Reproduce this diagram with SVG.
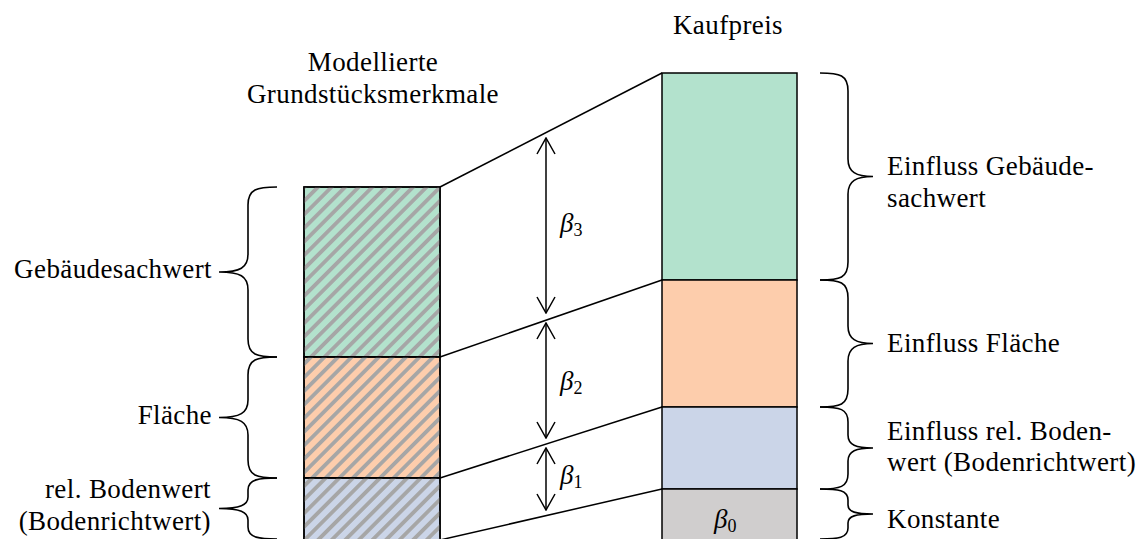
<svg xmlns="http://www.w3.org/2000/svg" width="1146" height="539" viewBox="0 0 1146 539">
<style>
text{font-family:"Liberation Serif","Times New Roman",serif;font-size:27px;letter-spacing:0.4px;fill:#000}
.e{text-anchor:end}
.m{text-anchor:middle}
.b{font-style:italic;letter-spacing:0}
.box{stroke:#000;stroke-width:1.5}
.ln{stroke:#000;stroke-width:1.5;fill:none}
.br{stroke:#000;stroke-width:1.6;fill:none}
</style>
<defs>
<pattern id="hatch" patternUnits="userSpaceOnUse" width="9.6" height="9.6" patternTransform="rotate(45)">
<rect x="0" y="0" width="3.8" height="9.6" fill="#a6a6a6"/>
</pattern>
<marker id="ah" viewBox="0 0 20 20" refX="19" refY="10" markerWidth="20" markerHeight="20" markerUnits="userSpaceOnUse" orient="auto-start-reverse">
<path d="M3,1 L19,10 L3,19" fill="none" stroke="#000" stroke-width="1.5"/>
</marker>
</defs>
<rect width="1146" height="539" fill="#fff"/>

<g id="title-left">
<text class="m" x="373" y="71">Modellierte</text>
<text class="m" x="373" y="103">Grundstücksmerkmale</text>
</g>
<g id="title-right">
<text class="m" x="728" y="34">Kaufpreis</text>
</g>

<g id="left-gebaeude">
<rect class="box" x="304" y="187" width="136" height="170" fill="#b3e2cd"/>
<rect x="304" y="187" width="136" height="170" fill="url(#hatch)"/>
<rect x="304" y="187" width="136" height="170" fill="none" class="box"/>
</g>
<g id="left-flaeche">
<rect class="box" x="304" y="357" width="136" height="121" fill="#fdcdac"/>
<rect x="304" y="357" width="136" height="121" fill="url(#hatch)"/>
<rect x="304" y="357" width="136" height="121" fill="none" class="box"/>
</g>
<g id="left-boden">
<rect class="box" x="304" y="478" width="136" height="64" fill="#cbd5e8"/>
<rect x="304" y="478" width="136" height="64" fill="url(#hatch)"/>
<rect x="304" y="478" width="136" height="64" fill="none" class="box"/>
</g>

<g id="right-gebaeude"><rect class="box" x="662" y="73" width="135" height="207" fill="#b3e2cd"/></g>
<g id="right-flaeche"><rect class="box" x="662" y="280" width="135" height="127" fill="#fdcdac"/></g>
<g id="right-boden"><rect class="box" x="662" y="407" width="135" height="82" fill="#cbd5e8"/></g>
<g id="right-konstante">
<rect class="box" x="662" y="489" width="135" height="53" fill="#d0cece"/>
<text class="b" x="714" y="528">β<tspan font-style="normal" font-size="18" dy="4">0</tspan></text>
</g>

<g id="connectors">
<line class="ln" x1="440" y1="187" x2="662" y2="73"/>
<line class="ln" x1="440" y1="357" x2="662" y2="280"/>
<line class="ln" x1="440" y1="478" x2="662" y2="407"/>
<line class="ln" x1="440" y1="540" x2="662" y2="489"/>
<line class="ln" x1="546" y1="138" x2="546" y2="313" marker-start="url(#ah)" marker-end="url(#ah)"/>
<line class="ln" x1="546" y1="323" x2="546" y2="438" marker-start="url(#ah)" marker-end="url(#ah)"/>
<line class="ln" x1="546" y1="448" x2="546" y2="510" marker-start="url(#ah)" marker-end="url(#ah)"/>
<text class="b" x="560" y="232">β<tspan font-style="normal" font-size="18" dy="4">3</tspan></text>
<text class="b" x="560" y="390">β<tspan font-style="normal" font-size="18" dy="4">2</tspan></text>
<text class="b" x="560" y="484">β<tspan font-style="normal" font-size="18" dy="4">1</tspan></text>
</g>

<g id="brace-left-gebaeude">
<path class="br" d="M277,187 C257,187 248,189 248,205 L248,254 C248,268 240,272 219,272 C240,272 248,276 248,290 L248,339 C248,355 257,357 277,357"/>
<text class="e" x="212" y="278">Gebäudesachwert</text>
</g>
<g id="brace-left-flaeche">
<path class="br" d="M277,357 C257,357 248,359 248,375 L248,400 C248,413 240,417.5 219,417.5 C240,417.5 248,422 248,435 L248,460 C248,476 257,478 277,478"/>
<text class="e" x="212" y="424">Fläche</text>
</g>
<g id="brace-left-boden">
<path class="br" d="M277,478 C260,478 248,479 248,490 L248,497 C248,505 240,508.5 219,508.5 C240,508.5 248,512 248,520 L248,527 C248,538 260,539 277,539"/>
<text class="e" x="211" y="498">rel. Bodenwert</text>
<text class="e" x="211" y="530">(Bodenrichtwert)</text>
</g>

<g id="brace-right-gebaeude">
<path class="br" d="M820,73 C840,73 848,75 848,91 L848,159 C848,172 856,176.5 873,176.5 C856,176.5 848,181 848,194 L848,262 C848,278 840,280 820,280"/>
<text x="887" y="175">Einfluss Gebäude-</text>
<text x="887" y="207">sachwert</text>
</g>
<g id="brace-right-flaeche">
<path class="br" d="M820,280 C840,280 848,282 848,298 L848,326 C848,339 856,343.5 873,343.5 C856,343.5 848,348 848,361 L848,389 C848,405 840,407 820,407"/>
<text x="887" y="352">Einfluss Fläche</text>
</g>
<g id="brace-right-boden">
<path class="br" d="M820,407 C840,407 848,409 848,422 L848,435 C848,445 856,448 873,448 C856,448 848,451 848,461 L848,474 C848,487 840,489 820,489"/>
<text x="887" y="440">Einfluss rel. Boden-</text>
<text x="887" y="471">wert (Bodenrichtwert)</text>
</g>
<g id="brace-right-konstante">
<path class="br" d="M820,489 C838,489 848,490 848,500 L848,505 C848,512 856,514 873,514 C856,514 848,516 848,523 L848,528 C848,538 838,539 820,539"/>
<text x="887" y="528">Konstante</text>
</g>
</svg>
